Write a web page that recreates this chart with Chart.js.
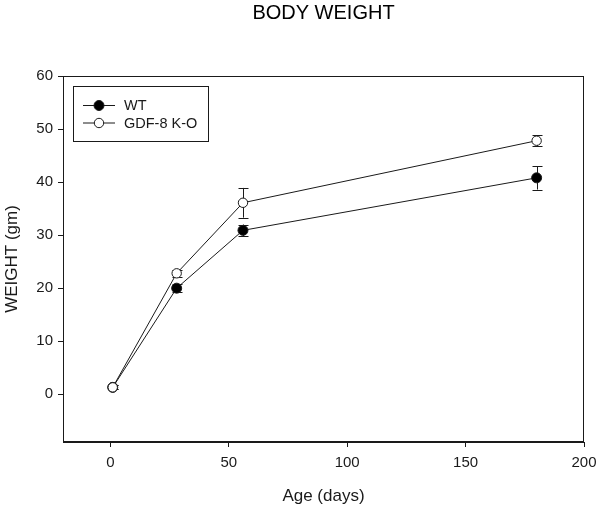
<!DOCTYPE html>
<html>
<head>
<meta charset="utf-8">
<script src="https://cdn.jsdelivr.net/npm/chart.js@4/dist/chart.umd.min.js"></script>
<style>
html,body{margin:0;padding:0;background:#fff;}
canvas{display:block;}
</style>
</head>
<body>
<canvas id="c" width="604" height="509"></canvas>
<script>
// ---- data ----
const days = [1, 28, 56, 180];
const wtValues = [1.3, 20.0, 30.9, 40.8];
const wtErrors = [0.4, 0.7, 1.1, 2.2];
const koValues = [1.3, 22.8, 36.1, 47.8];
const koErrors = [0.4, 0.7, 2.8, 1.0];
const seriesLabels = ['WT', 'GDF-8 K-O'];
const xTicks = [0, 50, 100, 150, 200];
const yTicks = [0, 10, 20, 30, 40, 50, 60];

const FONT = '"Liberation Sans", Arial, sans-serif';
const INK = '#1a1a1a';

const centerTitle = {
  id: 'centerTitle',
  afterLayout(chart) {
    const t = chart.titleBlock;
    if (t) { t.left = chart.chartArea.left; t.right = chart.chartArea.right; }
  }
};

const errorBars = {
  id: 'errorBars',
  beforeDatasetsDraw(chart) {
    const ctx = chart.ctx;
    const xs = chart.scales.x, ys = chart.scales.y;
    ctx.save();
    ctx.strokeStyle = INK;
    ctx.lineWidth = 1;
    chart.data.datasets.forEach(ds => {
      ds.data.forEach((p, i) => {
        const e = ds.errors[i];
        const x = Math.round(xs.getPixelForValue(p.x)) + 0.5;
        const y1 = ys.getPixelForValue(p.y + e);
        const y2 = ys.getPixelForValue(p.y - e);
        ctx.beginPath();
        ctx.moveTo(x, y1); ctx.lineTo(x, y2);
        ctx.moveTo(x - 5, Math.round(y1) + 0.5); ctx.lineTo(x + 5, Math.round(y1) + 0.5);
        ctx.moveTo(x - 5, Math.round(y2) + 0.5); ctx.lineTo(x + 5, Math.round(y2) + 0.5);
        ctx.stroke();
      });
    });
    ctx.restore();
  }
};

const frameAndLegend = {
  id: 'frameAndLegend',
  afterDraw(chart) {
    const ctx = chart.ctx;
    const a = chart.chartArea;
    ctx.save();
    ctx.strokeStyle = INK;
    ctx.lineWidth = 1;
    ctx.strokeRect(Math.round(a.left) + 0.5, Math.round(a.top) + 0.5,
                   Math.round(a.right - a.left) - 1, Math.round(a.bottom - a.top) - 1);
    // legend box
    const bx = a.left + 10, by = a.top + 10;
    ctx.strokeRect(Math.round(bx) + 0.5, Math.round(by) + 0.5, 135, 55);
    ctx.font = '14.5px ' + FONT;
    ctx.textBaseline = 'middle';
    ctx.fillStyle = INK;
    chart.data.datasets.forEach((ds, i) => {
      const y = by + 19.5 + i * 17.5;
      ctx.beginPath();
      ctx.moveTo(bx + 10, y); ctx.lineTo(bx + 42, y);
      ctx.stroke();
      ctx.beginPath();
      ctx.arc(bx + 26, y, ds.pointRadius, 0, Math.PI * 2);
      ctx.fillStyle = ds.pointBackgroundColor;
      ctx.fill();
      ctx.stroke();
      ctx.fillStyle = INK;
      ctx.fillText(ds.label, bx + 51, y + 0.5);
    });
    ctx.restore();
  }
};

const wtData = days.map((d, i) => ({x: d, y: wtValues[i]}));
const koData = days.map((d, i) => ({x: d, y: koValues[i]}));

new Chart(document.getElementById('c'), {
  type: 'line',
  data: {
    datasets: [
      {label: seriesLabels[0], data: wtData, errors: wtErrors, order: 1,
       borderColor: INK, borderWidth: 1, pointRadius: 5,
       pointBackgroundColor: '#000', pointBorderColor: INK, pointBorderWidth: 1, tension: 0},
      {label: seriesLabels[1], data: koData, errors: koErrors, order: 0,
       borderColor: INK, borderWidth: 1, pointRadius: 4.7,
       pointBackgroundColor: '#fff', pointBorderColor: INK, pointBorderWidth: 1, tension: 0}
    ]
  },
  options: {
    responsive: false,
    animation: false,
    devicePixelRatio: 1,
    layout: {padding: {left: 0, right: 20, top: 0, bottom: 0}},
    plugins: {
      legend: {display: false},
      tooltip: {enabled: false},
      title: {display: true, text: 'BODY WEIGHT', color: '#000',
              font: {family: FONT, size: 20, weight: 'normal'},
              padding: {top: 1, bottom: 51}}
    },
    scales: {
      x: {
        type: 'linear', min: -20, max: 200,
        afterBuildTicks: s => { s.ticks = xTicks.map(v => ({value: v})); },
        afterFit: s => { s.height = 67; },
        grid: {drawOnChartArea: false, drawTicks: true, tickLength: 5, color: INK},
        border: {display: true, color: INK, width: 1},
        ticks: {color: INK, font: {family: FONT, size: 15}, padding: 7, maxRotation: 0},
        title: {display: true, text: 'Age (days)', color: INK,
                font: {family: FONT, size: 17}, padding: {top: 0, bottom: 2}}
      },
      y: {
        type: 'linear', min: -9, max: 60,
        afterBuildTicks: s => { s.ticks = yTicks.map(v => ({value: v})); },
        afterFit: s => { s.width = 63; },
        grid: {drawOnChartArea: false, drawTicks: true, tickLength: 5, color: INK},
        border: {display: true, color: INK, width: 1},
        ticks: {color: INK, font: {family: FONT, size: 15}, padding: 5},
        title: {display: true, text: 'WEIGHT (gm)', color: INK,
                font: {family: FONT, size: 17}, padding: {top: 2, bottom: 0}}
      }
    }
  },
  plugins: [centerTitle, errorBars, frameAndLegend]
});
</script>
</body>
</html>
